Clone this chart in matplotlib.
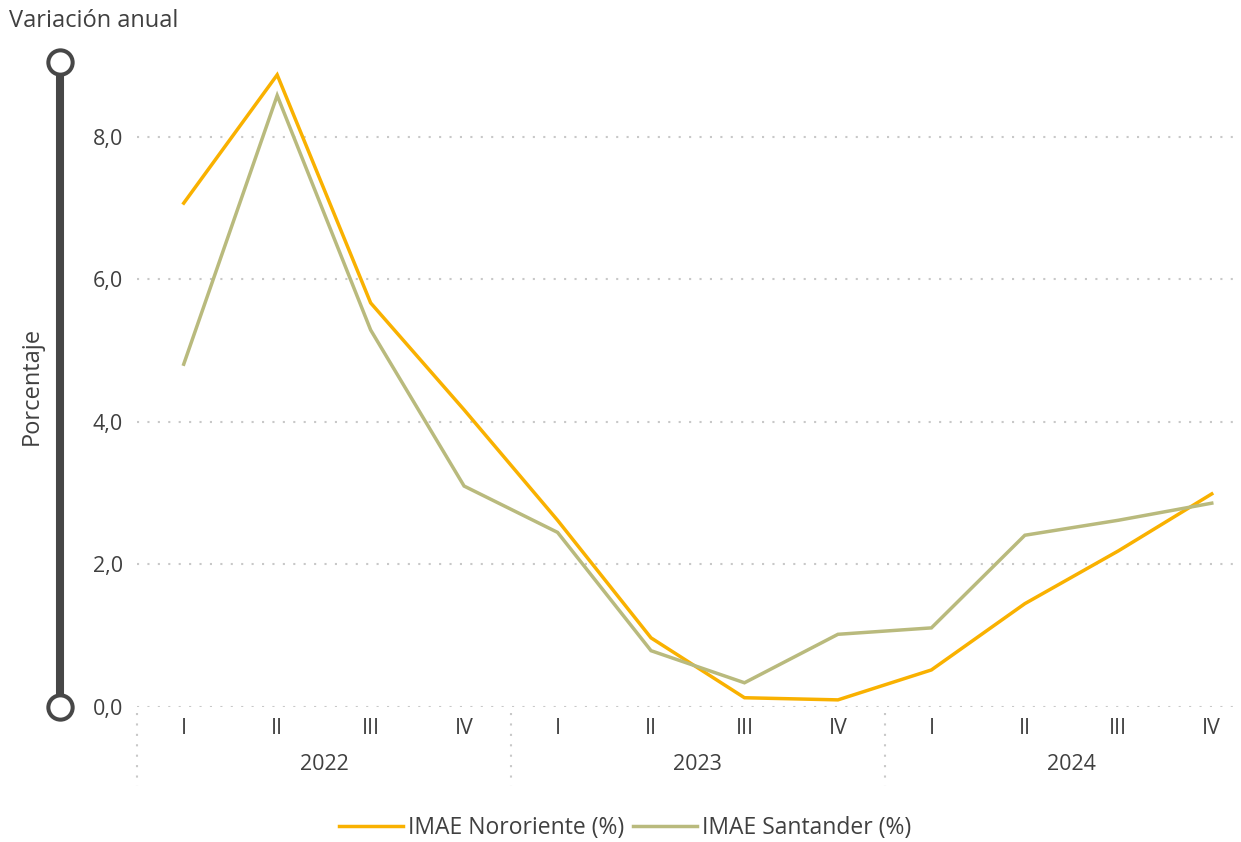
import matplotlib
import matplotlib.pyplot as plt
import matplotlib.transforms as mtransforms
from matplotlib.lines import Line2D

matplotlib.use("Agg")

plt.rcParams["font.family"] = ["Open Sans", "DejaVu Sans"]

YEARS = ["2022", "2023", "2024"]
QUARTERS = ["I", "II", "III", "IV"]
NORORIENTE = [7.07, 8.87, 5.67, 4.17, 2.62, 0.97, 0.13, 0.10, 0.52, 1.45, 2.19, 2.99]
SANTANDER = [4.81, 8.58, 5.29, 3.10, 2.45, 0.79, 0.34, 1.02, 1.11, 2.41, 2.62, 2.86]
Y_TICKS = [0, 2, 4, 6, 8]

TEXT = "#404040"
GRID = "#c8c8c8"
ORANGE = "#F9B100"
OLIVE = "#B9BA7D"
NUM_SIZE = 15.5
WORD_SIZE = 17

W, H = 1241, 842
fig = plt.figure(figsize=(W / 100, H / 100), dpi=100)
ax = fig.add_axes([137 / W, (H - 707) / H, (1237 - 137) / W, (707 - 62) / H])

x = list(range(len(NORORIENTE)))
ax.plot(x, NORORIENTE, color=ORANGE, lw=2.5, label="IMAE Nororiente (%)",
        solid_joinstyle="miter", zorder=3)
ax.plot(x, SANTANDER, color=OLIVE, lw=2.5, label="IMAE Santander (%)",
        solid_joinstyle="miter", zorder=3)

ax.set_xlim(-0.5, 11.27)
ax.set_ylim(0, 9.05)
ax.set_yticks(Y_TICKS)
ax.set_yticklabels([f"{v:.1f}".replace(".", ",") for v in Y_TICKS])
for v in Y_TICKS:
    ax.axhline(v, color=GRID, lw=1.5, dashes=(1, 4), zorder=1)

for s in ax.spines.values():
    s.set_visible(False)
ax.tick_params(axis="y", length=0, pad=10, labelsize=NUM_SIZE, labelcolor=TEXT)
ax.set_xticks([])

# category labels below the axis
trans = mtransforms.blended_transform_factory(ax.transData, fig.transFigure)
for i, yr in enumerate(YEARS):
    for j, q in enumerate(QUARTERS):
        ax.text(i * 4 + j, (H - 729) / H, q, transform=trans, ha="center",
                va="center", fontsize=NUM_SIZE, color=TEXT)
    ax.text(i * 4 + 1.5, (H - 765) / H, yr, transform=trans, ha="center",
            va="center", fontsize=NUM_SIZE, color=TEXT)
for sep in [-0.5, 3.5, 7.5]:
    ax.add_artist(Line2D([sep, sep], [(H - 713) / H, (H - 786) / H],
                         transform=trans, color=GRID, lw=1.5, dashes=(1, 4),
                         clip_on=False))

# decorative axis bar on the left
bar = mtransforms.blended_transform_factory(fig.transFigure, ax.transAxes)
bx = 60 / W
ax.add_artist(Line2D([bx, bx], [0, 1], transform=bar, color="#474747", lw=5.8,
                     clip_on=False, zorder=4))
ax.add_artist(Line2D([bx, bx], [0, 1], transform=bar, ls="none", marker="o",
                     ms=17.5, mfc="white", mec="#474747", mew=2.9,
                     clip_on=False, zorder=5))

fig.text(32 / W, (H - 386) / H, "Porcentaje", rotation=90, ha="center",
         va="center", fontsize=WORD_SIZE, color=TEXT)
fig.text(9 / W, (H - 21) / H, "Variación anual", ha="left", va="center",
         fontsize=WORD_SIZE, color=TEXT)

fig.legend(loc="center", bbox_to_anchor=(625 / W, (H - 828) / H), ncol=2,
           frameon=False, fontsize=16.5, labelcolor=TEXT, handlelength=2.8,
           handletextpad=0.2, columnspacing=0.4)

fig.savefig("out.png", dpi=100)
